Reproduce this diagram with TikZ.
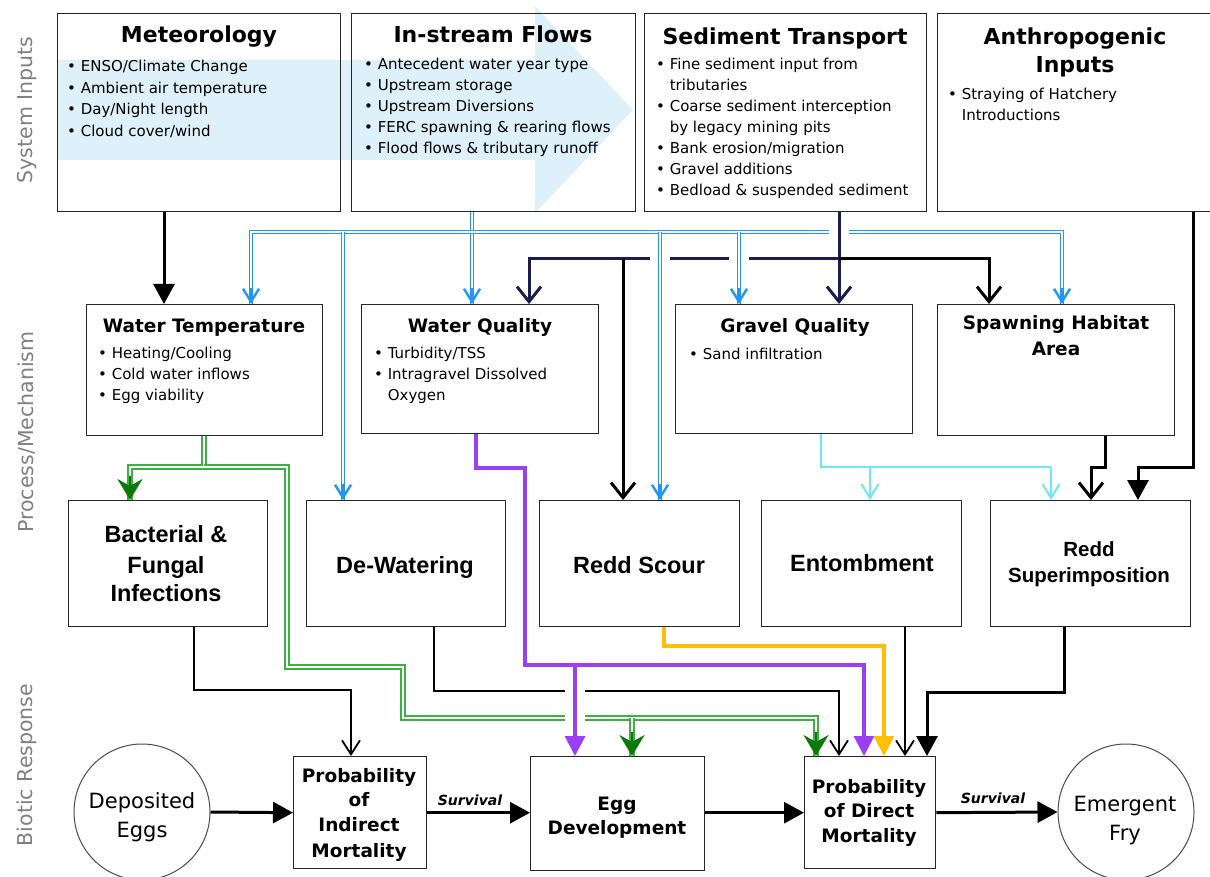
\documentclass[tikz,border=0pt]{standalone}
\usepackage{fontspec}
\setmainfont{DejaVu Sans}
\newfontfamily\arialfont{Liberation Sans}
\usetikzlibrary{arrows.meta}

\definecolor{bandblue}{HTML}{DEF1FA}
\definecolor{flowblue}{HTML}{2196F3}
\definecolor{navy}{HTML}{1C1C4E}
\definecolor{grn}{HTML}{3CB043}
\definecolor{dgrn}{HTML}{0A7A0A}
\definecolor{purp}{HTML}{9B3FF5}
\definecolor{gold}{HTML}{FFC000}
\definecolor{cyanl}{HTML}{6EE8F4}
\definecolor{sidegray}{HTML}{808080}

\tikzset{
  frame/.style={draw=black!85, line width=1.4pt, inner sep=0pt, anchor=north west},
  ring/.style={draw=black!70, line width=1pt, circle, inner sep=0pt, minimum size=136pt},
  side/.style={font=\fontsize{20.5}{24}\selectfont, text=sidegray, rotate=90, inner sep=0pt},
  ttl/.style={font=\bfseries\fontsize{22}{26}\selectfont, anchor=base, inner sep=0pt},
  bul/.style={font=\fontsize{15}{17}\selectfont, anchor=base west, inner sep=0pt},
  mttl/.style={font=\bfseries\fontsize{18.5}{22}\selectfont, anchor=base, inner sep=0pt},
  big/.style={font=\arialfont\bfseries\fontsize{23.5}{27}\selectfont, anchor=base, inner sep=0pt},
  mid/.style={font=\arialfont\bfseries\fontsize{20.5}{24}\selectfont, anchor=base, inner sep=0pt},
  low/.style={font=\fontsize{21}{25}\selectfont, anchor=base, inner sep=0pt},
  lowb/.style={font=\bfseries\fontsize{18.5}{22}\selectfont, anchor=base, inner sep=0pt},
  surv/.style={font=\bfseries\itshape\fontsize{14}{16}\selectfont, anchor=base, inner sep=0pt},
  % connector styles
  blk/.style={draw=black, line width=3pt},
  tri/.style={-{Triangle[length=20pt,width=21pt]}},
  barb/.style={-{Straight Barb[length=15pt,width=24pt]}},
  nv/.style={draw=navy, line width=3pt},
  thinblk/.style={draw=black, line width=1.8pt, -{Straight Barb[length=14pt,width=18pt]}},
  bdouble/.style={draw=flowblue, line width=1.3pt, double=white, double distance=1.6pt},
  btip/.style={draw=flowblue, line width=2.4pt, -{Straight Barb[length=13pt,width=16pt]}},
  gdouble/.style={draw=grn, line width=1.8pt, double=white, double distance=1.7pt},
  gtip/.style={draw=dgrn, line width=2pt, -{Stealth[length=21pt,width=25pt,inset=7pt]}},
  pp/.style={draw=purp, line width=3.2pt, -{Triangle[length=20pt,width=20pt]}},
  yl/.style={draw=gold, line width=3.2pt, -{Triangle[length=20pt,width=20pt]}},
  cy/.style={draw=cyanl, line width=2pt},
  cytip/.style={draw=cyanl, line width=2pt, -{Straight Barb[length=14pt,width=17pt]}},
}

\begin{document}
\begin{tikzpicture}[x=1pt,y=-1pt]
\useasboundingbox (0,0) rectangle (1210,877);
\fill[white] (0,0) rectangle (1210,877);

% pale process arrow running behind the input boxes
\fill[bandblue] (58,60) -- (535,60) -- (535,6) -- (633,110) -- (535,213) -- (535,160) -- (58,160) -- cycle;

% tier labels
\node[side] (lab-in) at (27,110) {System Inputs};
\node[side] (lab-pm) at (27,432) {Process/Mechanism};
\node[side] (lab-br) at (27,765) {Biotic Response};

% ---------- system inputs ----------
\node[frame, minimum width=283pt, minimum height=198pt] (met) at (57,13) {};
\node[frame, minimum width=284pt, minimum height=198pt] (flow) at (351,13) {};
\node[frame, minimum width=282pt, minimum height=198pt] (sed) at (644,13) {};
\node[frame, minimum width=290pt, minimum height=198pt] (anth) at (937,13) {};

\node[ttl] (met-t) at (199,43) {Meteorology};
\node[bul] (met-1) at (67,72) {\textbullet\ ENSO/Climate Change};
\node[bul] (met-2) at (67,93.5) {\textbullet\ Ambient air temperature};
\node[bul] (met-3) at (67,115) {\textbullet\ Day/Night length};
\node[bul] (met-4) at (67,136.5) {\textbullet\ Cloud cover/wind};

\node[ttl] (flow-t) at (493,43) {In-stream Flows};
\node[bul] (flow-1) at (364,70) {\textbullet\ Antecedent water year type};
\node[bul] (flow-2) at (364,91) {\textbullet\ Upstream storage};
\node[bul] (flow-3) at (364,112) {\textbullet\ Upstream Diversions};
\node[bul] (flow-4) at (364,133) {\textbullet\ FERC spawning \& rearing flows};
\node[bul] (flow-5) at (364,154) {\textbullet\ Flood flows \& tributary runoff};

\node[ttl] (sed-t) at (785,45) {Sediment Transport};
\node[bul] (sed-1) at (656,70) {\textbullet\ Fine sediment input from};
\node[bul] (sed-2) at (656,91) {\phantom{\textbullet\ }tributaries};
\node[bul] (sed-3) at (656,112) {\textbullet\ Coarse sediment interception};
\node[bul] (sed-4) at (656,133) {\phantom{\textbullet\ }by legacy mining pits};
\node[bul] (sed-5) at (656,154) {\textbullet\ Bank erosion/migration};
\node[bul] (sed-6) at (656,175) {\textbullet\ Gravel additions};
\node[bul] (sed-7) at (656,196) {\textbullet\ Bedload \& suspended sediment};

\node[ttl] (anth-t1) at (1075,45) {Anthropogenic};
\node[ttl] (anth-t2) at (1075,73) {Inputs};
\node[bul] (anth-1) at (948,100) {\textbullet\ Straying of Hatchery};
\node[bul] (anth-2) at (948,121) {\phantom{\textbullet\ }Introductions};

% ---------- processes / mechanisms ----------
\node[frame, minimum width=236pt, minimum height=131pt] (wt) at (86,304) {};
\node[frame, minimum width=237pt, minimum height=129pt] (wq) at (361,304) {};
\node[frame, minimum width=237pt, minimum height=129pt] (gq) at (675,304) {};
\node[frame, minimum width=237pt, minimum height=131pt] (sha) at (937,304) {};

\node[mttl] (wt-t) at (204,332) {Water Temperature};
\node[bul] (wt-1) at (98,358) {\textbullet\ Heating/Cooling};
\node[bul] (wt-2) at (98,379) {\textbullet\ Cold water inflows};
\node[bul] (wt-3) at (98,400) {\textbullet\ Egg viability};

\node[mttl] (wq-t) at (480,332) {Water Quality};
\node[bul] (wq-1) at (374,358) {\textbullet\ Turbidity/TSS};
\node[bul] (wq-2) at (374,379) {\textbullet\ Intragravel Dissolved};
\node[bul] (wq-3) at (374,400) {\phantom{\textbullet\ }Oxygen};

\node[mttl] (gq-t) at (795,333) {Gravel Quality};
\node[bul] (gq-1) at (689,359) {\textbullet\ Sand infiltration};

\node[mttl] (sha-t1) at (1056,330) {Spawning Habitat};
\node[mttl] (sha-t2) at (1056,355) {Area};

% ---------- impacts ----------
\node[frame, fill=white, minimum width=199pt, minimum height=126pt] (bact) at (68,500) {};
\node[frame, fill=white, minimum width=199pt, minimum height=126pt] (dew) at (306,500) {};
\node[frame, fill=white, minimum width=200pt, minimum height=126pt] (scour) at (539,500) {};
\node[frame, fill=white, minimum width=200pt, minimum height=126pt] (ent) at (761,500) {};
\node[frame, fill=white, minimum width=200pt, minimum height=126pt] (sup) at (990,500) {};

\node[big] (bact-1) at (166,542) {Bacterial \&};
\node[big] (bact-2) at (166,573) {Fungal};
\node[big] (bact-3) at (166,601) {Infections};
\node[big] (dew-t) at (405,573) {De-Watering};
\node[big] (scour-t) at (639,573) {Redd Scour};
\node[big] (ent-t) at (862,571) {Entombment};
\node[mid] (sup-1) at (1089,556) {Redd};
\node[mid] (sup-2) at (1089,582) {Superimposition};

% ---------- biotic response ----------
\node[ring] (dep) at (142,812) {};
\node[frame, fill=white, minimum width=133pt, minimum height=112pt] (pind) at (293,756) {};
\node[frame, fill=white, minimum width=174pt, minimum height=114pt] (egg) at (530,756) {};
\node[frame, fill=white, minimum width=131pt, minimum height=112pt] (pdir) at (804,756) {};
\node[ring] (fry) at (1126,812) {};

\node[low] (dep-1) at (142,808) {Deposited};
\node[low] (dep-2) at (142,837) {Eggs};
\node[lowb] (pind-1) at (359,782) {Probability};
\node[lowb] (pind-2) at (359,806) {of};
\node[lowb] (pind-3) at (359,831) {Indirect};
\node[lowb] (pind-4) at (359,857) {Mortality};
\node[lowb] (egg-1) at (617,810) {Egg};
\node[lowb] (egg-2) at (617,834) {Development};
\node[lowb] (pdir-1) at (869,793) {Probability};
\node[lowb] (pdir-2) at (869,817) {of Direct};
\node[lowb] (pdir-3) at (869,842) {Mortality};
\node[low] (fry-1) at (1125,811) {Emergent};
\node[low] (fry-2) at (1125,840) {Fry};

% ---------- connectors ----------
% junction points of the routed lines
\coordinate (bus) at (0,232);
\coordinate (sedbus) at (839,259);
\coordinate (hab) at (0,467);
\coordinate (low1) at (0,646);
\coordinate (low2) at (0,665);
\coordinate (low3) at (0,691);
\coordinate (low4) at (0,718);

% meteorology -> water temperature
\draw[blk, tri] (met.south -| 164,0) -- (wt.north -| 164,0);

% in-stream flows distribution (double blue)
\draw[bdouble] (flow.south -| 472,0) -- (wq.north -| 472,0);
\draw[btip] ([yshift=16pt]wq.north -| 472,0) -- (wq.north -| 472,0);
\draw[bdouble] (wt.north -| 251,0) -- (bus -| 251,0) -- (bus -| 1062,0) -- (sha.north -| 1062,0);
\draw[btip] ([yshift=16pt]wt.north -| 251,0) -- (wt.north -| 251,0);
\draw[btip] ([yshift=16pt]sha.north -| 1062,0) -- (sha.north -| 1062,0);
\draw[bdouble] (bus -| 343,0) -- (dew.north -| 343,0);
\draw[btip] ([yshift=16pt]dew.north -| 343,0) -- (dew.north -| 343,0);
% break in the bus where the sediment line passes
\fill[white] (829,225) rectangle (849,239);

% sediment transport
\draw[nv, barb] (sed.south -| sedbus) -- (gq.north -| sedbus);
\draw[nv, barb] (sedbus) -- (sedbus -| 529,0) -- (wq.north -| 529,0);
\draw[blk, barb] (sedbus) -- (sedbus -| 989,0) -- (sha.north -| 989,0);
\draw[blk, barb] (sedbus -| 623,0) -- (scour.north -| 623,0);
% breaks in the sediment line where flow lines pass
\fill[white] (650,252) rectangle (670,266);
\fill[white] (729,252) rectangle (749,266);
\draw[bdouble] (bus -| 660,0) -- (scour.north -| 660,0);
\draw[btip] ([yshift=16pt]scour.north -| 660,0) -- (scour.north -| 660,0);
\draw[bdouble] (bus -| 739,0) -- (gq.north -| 739,0);
\draw[btip] ([yshift=16pt]gq.north -| 739,0) -- (gq.north -| 739,0);

% anthropogenic inputs and spawning habitat -> redd superimposition
\draw[blk, tri] (anth.south -| 1193,0) -- (hab -| 1193,0) -- (hab -| 1138,0) -- (sup.north -| 1138,0);
\draw[blk, barb] (sha.south -| 1105,0) -- (hab -| 1105,0) -- (hab -| 1091,0) -- (sup.north -| 1091,0);

% gravel quality -> entombment, superimposition
\draw[cy] (gq.south -| 821,0) -- (hab -| 821,0) -- (hab -| 1051,0);
\draw[cytip] (hab -| 1051,0) -- (sup.north -| 1051,0);
\draw[cytip] (hab -| 870,0) -- (ent.north -| 870,0);

% water temperature (double green)
\draw[gdouble] (wt.south -| 204,0) -- (hab -| 204,0) -- (hab -| 130,0) -- (bact.north -| 130,0);
\draw[gtip] ([yshift=24pt]bact.north -| 130,0) -- (bact.north -| 130,0);
\draw[gdouble] (hab -| 204,0) -- (hab -| 287,0) -- (287,667) -- (403,667) -- (low4 -| 403,0) -- (low4 -| 816,0) -- (pdir.north -| 816,0);
\draw[gtip] ([yshift=24pt]pdir.north -| 816,0) -- (pdir.north -| 816,0);
\draw[gdouble] (low4 -| 632,0) -- (egg.north -| 632,0);
\draw[gtip] ([yshift=24pt]egg.north -| 632,0) -- (egg.north -| 632,0);

% bacterial, de-watering -> mortality
\draw[thinblk] (bact.south -| 194,0) -- (194,690) -- (351,690) -- (pind.north -| 351,0);
\draw[thinblk] (dew.south -| 434,0) -- (low3 -| 434,0) -- (low3 -| 839,0) -- (pdir.north -| 839,0);
% breaks where the water quality line passes
\fill[white] (565,683) rectangle (585,699);
\fill[white] (565,710) rectangle (585,726);

% water quality (purple)
\draw[pp] (wq.south -| 476,0) -- (476,468) -- (525,468) -- (low2 -| 525,0) -- (low2 -| 864,0) -- (pdir.north -| 864,0);
\draw[pp] (low2 -| 575,0) -- (egg.north -| 575,0);

% redd scour (gold), entombment, superimposition
\draw[yl] (scour.south -| 664,0) -- (low1 -| 664,0) -- (low1 -| 884,0) -- (pdir.north -| 884,0);
\draw[thinblk] (ent.south -| 905,0) -- (pdir.north -| 905,0);
\draw[blk, tri] (sup.south -| 1064,0) -- (1064,692) -- (927,692) -- (pdir.north -| 927,0);

% survival chain
\draw[blk, tri] (dep.east) -- (pind.west);
\draw[blk, tri] (pind.east) -- (egg.west |- pind.east);
\draw[blk, tri] (egg.east |- pind.east) -- (pdir.west);
\draw[blk, tri] (pdir.east) -- (fry.west);
\node[surv] (surv-1) at (470,805) {Survival};
\node[surv] (surv-2) at (993,803) {Survival};
\end{tikzpicture}
\end{document}
